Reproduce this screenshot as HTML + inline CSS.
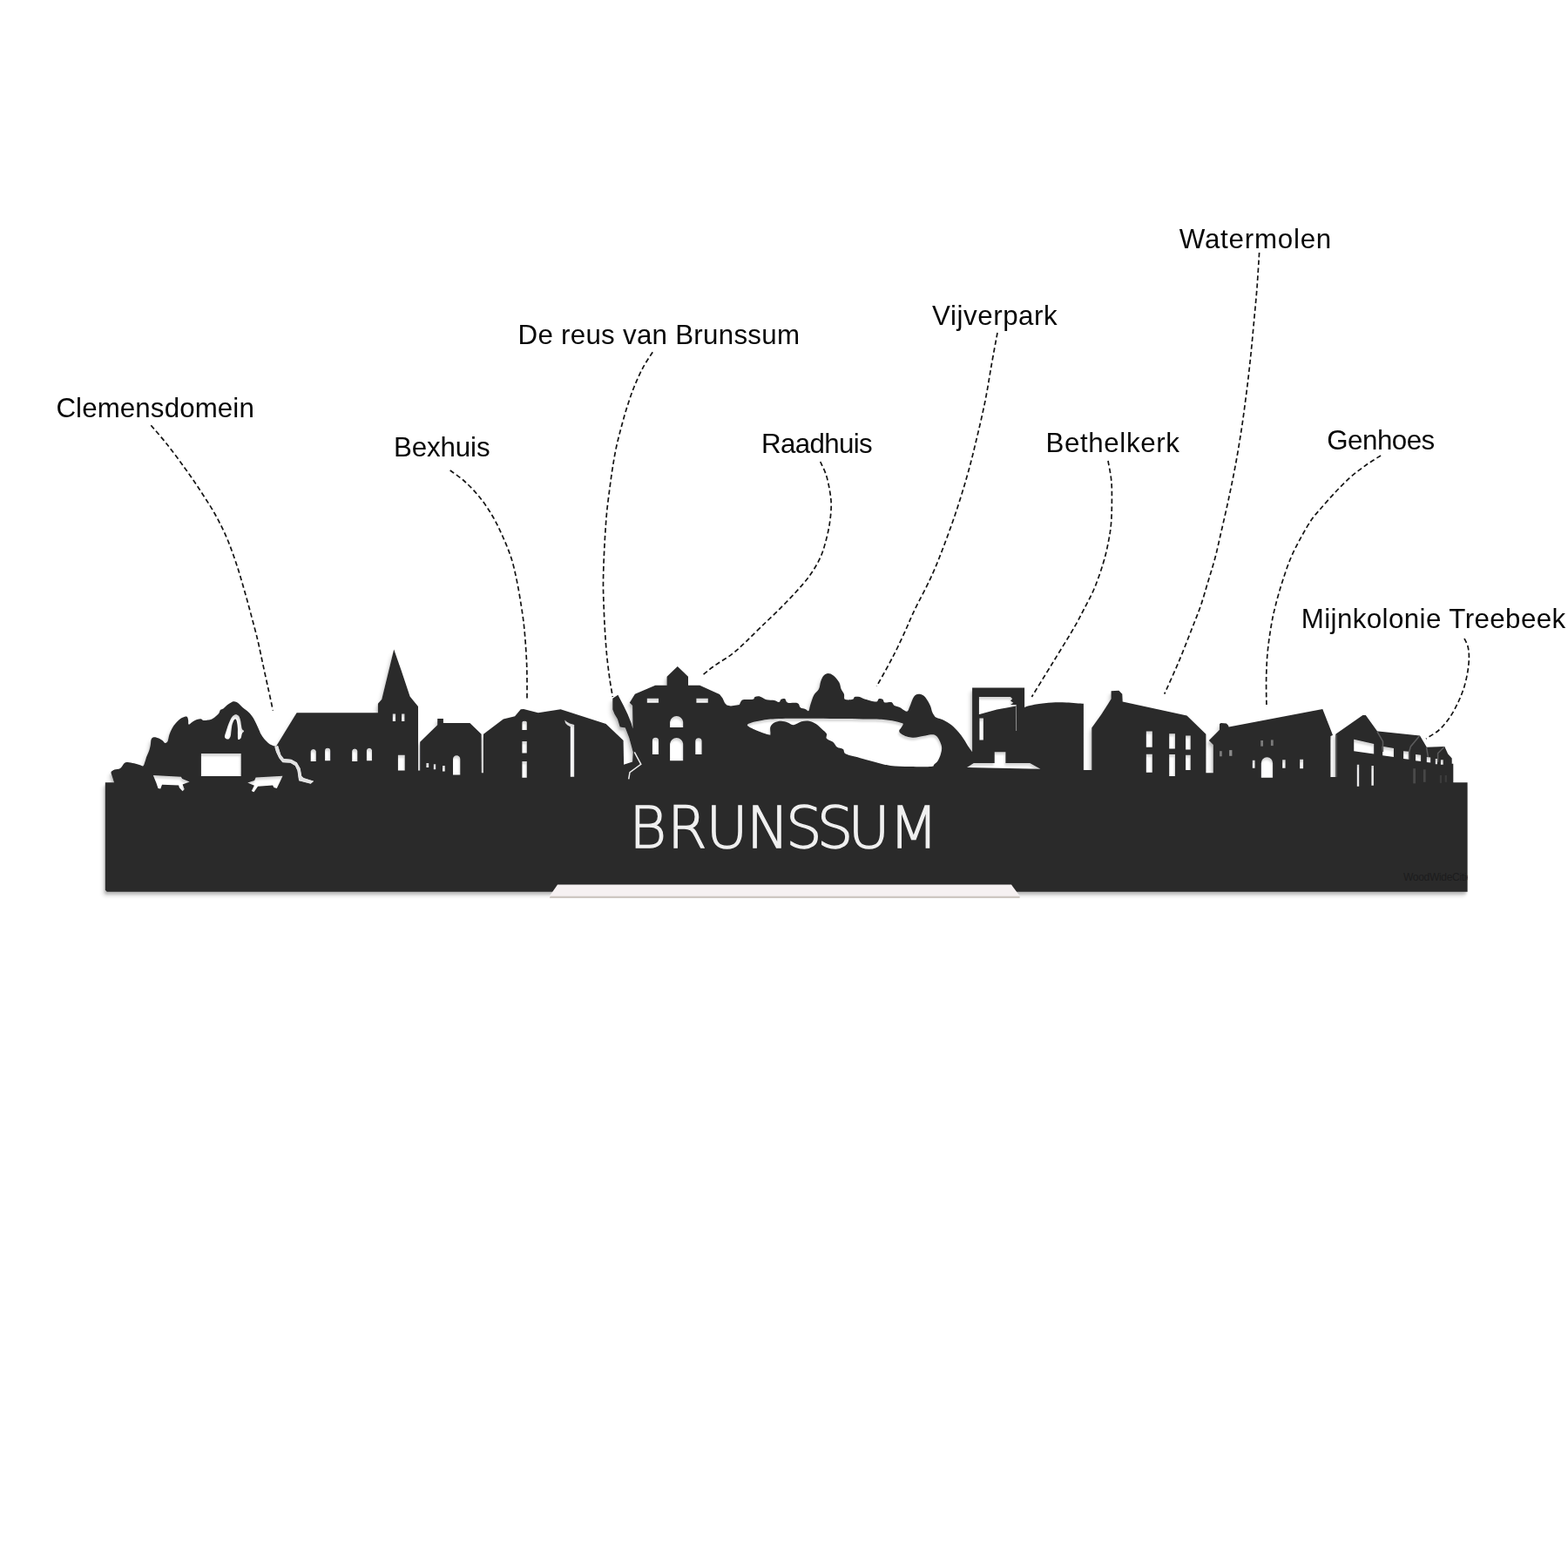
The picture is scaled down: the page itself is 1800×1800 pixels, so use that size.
<!DOCTYPE html>
<html lang="nl">
<head>
<meta charset="utf-8">
<title>Skyline Brunssum</title>
<style>
html,body{margin:0;padding:0;background:#fff;}
body{width:1800px;height:1800px;overflow:hidden;position:relative;font-family:"Liberation Sans",sans-serif;}
svg{display:block;position:absolute;left:0;top:0;}
.lbl text{font-family:"Liberation Sans",sans-serif;font-size:31.3px;fill:#080808;}
.lead path{fill:none;stroke:#141414;stroke-width:1.7;stroke-dasharray:5.5 3.3;}
.city{font-family:"DejaVu Sans","Liberation Sans",sans-serif;font-weight:200;font-size:65.6px;fill:#f0f0f0;stroke:#f0f0f0;stroke-width:1.3;stroke-linejoin:miter;}
.wm{font-family:"Liberation Sans",sans-serif;font-size:12px;fill:#1c1c1d;letter-spacing:-0.3px;}
</style>
</head>
<body>
<svg width="1800" height="1800" viewBox="0 0 1800 1800">
<defs>
<filter id="sh" x="-2%" y="-10%" width="104%" height="130%">
<feGaussianBlur in="SourceAlpha" stdDeviation="1.1" result="b"/>
<feOffset in="b" dx="-1.5" dy="2.8" result="o"/>
<feComponentTransfer in="o" result="s"><feFuncA type="linear" slope="0.16"/></feComponentTransfer>
<feMerge><feMergeNode in="s"/><feMergeNode in="SourceGraphic"/></feMerge>
</filter>
<filter id="sho" x="-2%" y="-10%" width="104%" height="130%">
<feGaussianBlur in="SourceAlpha" stdDeviation="1.9" result="b"/>
<feOffset in="b" dx="-3" dy="5" result="o"/>
<feComponentTransfer in="o" result="s"><feFuncA type="linear" slope="0.13"/></feComponentTransfer>
</filter>
<clipPath id="outside"><path clip-rule="evenodd" d="M0,0H1800V1800H0Z M120.8,898.3 L131.0,898.3 L127.4,887.0 C127.6,886.7 127.6,885.9 128.3,885.3 C129.0,884.7 129.8,884.0 131.4,883.4 C133.0,882.8 136.2,883.1 138.1,881.9 C140.0,880.7 141.4,877.2 142.8,876.0 C144.2,874.8 144.8,874.9 146.7,874.9 C148.6,874.9 151.7,875.7 154.0,876.2 C156.3,876.8 159.0,877.7 160.7,878.2 C162.4,878.7 163.4,879.9 164.4,879.2 C165.4,878.6 165.8,876.1 166.5,874.3 C167.2,872.5 167.6,870.2 168.4,868.2 C169.2,866.2 170.3,864.3 171.1,862.1 C171.8,859.9 172.5,857.0 172.9,854.8 C173.3,852.6 173.0,850.1 173.6,848.7 C174.2,847.3 175.3,846.5 176.6,846.2 C177.9,846.0 179.9,846.6 181.5,847.2 C183.1,847.8 185.1,849.0 186.4,849.9 C187.7,850.8 188.4,852.7 189.4,852.9 C190.4,853.1 191.7,852.6 192.5,851.1 C193.3,849.6 193.5,846.2 194.3,843.8 C195.1,841.3 196.2,838.6 197.4,836.4 C198.6,834.1 200.2,832.1 201.7,830.3 C203.2,828.5 204.9,826.6 206.6,825.4 C208.3,824.1 210.7,823.2 212.1,822.8 C213.5,822.4 214.2,822.4 214.9,823.0 C215.6,823.6 215.8,825.3 216.1,826.7 C216.4,828.1 215.8,831.2 216.6,831.6 C217.3,832.0 219.0,829.8 220.6,828.9 C222.2,828.0 224.4,826.7 226.1,826.1 C227.8,825.5 229.8,825.2 231.0,825.4 C232.2,825.5 232.3,826.8 233.4,827.0 C234.5,827.2 236.3,826.9 237.7,826.7 C239.1,826.6 240.5,826.7 242.0,826.1 C243.5,825.5 245.4,824.2 246.9,823.0 C248.4,821.8 250.2,820.4 251.2,819.1 C252.2,817.8 252.1,816.1 253.0,815.1 C253.9,814.1 255.4,814.2 256.7,813.2 C258.0,812.2 259.5,810.4 260.9,809.3 C262.3,808.2 263.9,807.2 265.2,806.5 C266.5,805.8 267.6,805.2 268.9,805.3 C270.2,805.4 271.7,806.0 273.2,807.1 C274.7,808.2 276.6,810.5 278.1,811.8 C279.6,813.1 280.9,814.0 282.3,815.1 C283.7,816.2 285.3,817.3 286.6,818.7 C287.9,820.1 289.1,821.7 290.3,823.6 C291.5,825.5 292.8,828.0 293.9,830.3 C295.0,832.5 296.1,835.0 297.0,837.1 C297.9,839.2 298.4,840.8 299.4,842.6 C300.4,844.4 301.7,846.4 303.1,848.1 C304.5,849.8 306.4,851.6 308.0,852.9 C309.6,854.2 311.5,855.1 312.9,855.8 C314.3,856.5 316.0,856.8 316.6,857.0 L317.8,855.6 L340.6,818.3 L433.9,818.3 L433.9,807.8 L438.3,802.8 L452.2,745.6 L460.0,767.8 L470.6,799.4 L480.0,811.1 L480.0,884.4 L482.2,884.4 L482.2,851.7 L502.2,832.2 L502.2,825.0 L508.9,825.0 L508.9,830.0 L539.4,830.0 L552.6,842.8 L552.8,887.2 L555.0,887.2 L555.0,842.8 L577.8,825.6 L591.1,822.2 L597.8,814.2 L601.1,813.9 L617.8,818.3 L643.6,814.3 L695.6,831.1 L715.6,850.0 L716.1,877.8 L726.1,874.4 L726.7,863.3 L722.2,846.7 L717.8,835.6 L711.7,834.4 L708.9,825.6 L705.6,820.0 L703.3,814.4 L703.3,801.7 L709.4,797.8 L711.6,802.0 L715.8,810.0 L720.6,820.0 L724.6,830.0 L726.5,836.5 L726.1,810.0 L722.8,806.7 L728.9,796.7 L752.2,786.7 L765.6,786.7 L765.6,776.7 L777.8,765.0 L790.0,776.7 L790.0,786.7 L803.3,786.7 L822.0,795.3 L826.0,797.0 L829.5,801.5 L832.0,807.0 L834.4,809.4 L838.9,810.6 L848.9,808.9 C849.3,808.1 850.2,805.4 851.1,804.4 C852.0,803.4 852.2,803.4 854.4,803.1 C856.6,802.8 862.3,803.3 864.4,802.8 C866.5,802.3 865.4,800.6 866.7,800.0 C868.0,799.4 870.0,798.9 872.2,799.4 C874.4,799.9 877.2,802.5 880.0,803.3 C882.8,804.0 886.5,803.4 888.9,803.9 C891.3,804.4 893.1,806.3 894.4,806.1 C895.7,805.9 895.6,803.4 896.7,802.8 C897.8,802.1 899.8,801.6 901.1,802.2 C902.4,802.9 902.0,805.9 904.4,806.7 C906.8,807.5 913.2,806.3 915.6,807.2 C918.0,808.1 917.4,811.1 918.9,812.2 C920.4,813.3 922.8,813.2 924.4,813.9 C926.0,814.5 927.4,816.8 928.3,816.1 C929.2,815.5 929.0,813.0 930.0,810.0 C931.0,807.0 932.7,800.9 934.4,797.8 C936.1,794.6 938.7,793.7 940.0,791.1 C941.3,788.5 941.3,784.8 942.2,782.2 C943.1,779.6 944.2,777.1 945.6,775.6 C947.0,774.1 948.8,773.1 950.6,773.1 C952.5,773.1 954.6,773.9 956.7,775.6 C958.8,777.3 961.8,780.7 963.3,783.3 C964.8,785.9 964.7,788.9 965.6,791.1 C966.5,793.3 968.2,794.8 968.9,796.7 C969.6,798.7 968.3,801.8 970.0,802.8 C971.7,803.8 977.0,803.3 978.9,802.8 C980.8,802.3 979.8,800.5 981.1,800.0 C982.4,799.5 984.7,799.5 986.7,800.0 C988.7,800.5 990.1,801.9 993.3,802.8 C996.4,803.7 1003.0,805.7 1005.6,805.6 C1008.2,805.5 1007.6,802.7 1008.9,802.2 C1010.2,801.7 1012.2,802.1 1013.3,802.8 C1014.4,803.5 1013.9,805.8 1015.6,806.4 C1017.3,807.0 1021.4,805.5 1023.3,806.1 C1025.1,806.7 1025.0,809.0 1026.7,810.0 C1028.4,811.0 1030.9,811.1 1033.3,812.2 C1035.7,813.3 1039.2,816.9 1041.1,816.7 C1042.9,816.5 1043.3,813.5 1044.4,811.1 C1045.5,808.7 1046.7,804.4 1047.8,802.2 C1048.9,800.0 1049.8,798.7 1051.1,797.8 C1052.4,796.9 1053.9,796.5 1055.6,796.7 C1057.3,796.9 1059.5,797.8 1061.1,799.2 C1062.7,800.6 1064.1,803.0 1065.3,805.0 C1066.5,807.0 1067.5,809.0 1068.3,811.0 C1069.1,813.0 1069.3,815.2 1070.0,817.0 C1070.7,818.8 1071.7,820.4 1072.5,821.5 C1073.3,822.6 1073.2,822.9 1075.0,823.8 C1076.8,824.7 1080.4,825.3 1083.3,826.7 C1086.2,828.1 1089.4,830.0 1092.2,832.2 C1095.0,834.4 1097.6,837.2 1100.0,840.0 C1102.4,842.8 1104.7,845.9 1106.7,848.9 C1108.7,851.9 1110.6,855.4 1112.2,857.8 C1113.8,860.2 1115.4,862.4 1116.1,863.3 L1116.1,789.4 L1176.1,789.4 L1176.1,812.2 C1176.8,811.9 1177.5,811.2 1180.0,810.6 C1182.5,810.0 1186.5,809.0 1191.1,808.3 C1195.7,807.6 1202.2,806.7 1207.8,806.4 C1213.3,806.1 1218.4,806.2 1224.4,806.4 C1230.4,806.6 1240.7,807.6 1243.9,807.8 L1243.9,883.9 L1253.3,883.9 L1253.3,835.6 L1264.4,820.0 L1272.2,807.8 L1275.6,802.2 L1275.6,793.3 L1284.4,792.8 L1288.3,796.7 L1288.7,805.6 L1362.5,821.4 L1384.4,842.8 L1384.4,887.2 L1392.8,887.2 L1392.8,855.0 L1387.8,850.0 L1400.0,837.8 L1400.0,831.1 L1401.7,830.0 L1407.8,830.6 L1410.0,832.8 L1410.6,834.4 L1518.3,813.9 L1530.0,844.0 L1527.4,845.0 L1527.4,892.0 L1533.3,892.0 L1533.3,842.8 L1564.4,821.1 L1567.8,821.1 L1581.1,839.4 L1582.2,839.4 L1630.0,844.4 L1637.8,857.8 L1658.3,856.9 L1662.2,865.6 L1666.7,870.6 L1666.7,876.7 L1668.3,876.7 L1668.3,898.3 L1684.6,898.3 L1684.6,1023.7 L122.8,1023.7 L120.8,1021.7 Z"/></clipPath>
<clipPath id="baseclip"><rect x="120" y="898" width="1564.6" height="125.7"/></clipPath>
</defs>
<rect width="1800" height="1800" fill="#ffffff"/>
<g class="lead">
<path d="M173.3,488.3 C176.4,491.9 185.3,501.9 191.7,510.0 C198.1,518.1 205.3,527.8 211.7,536.7 C218.1,545.6 224.2,554.4 230.0,563.3 C235.8,572.2 241.7,581.1 246.7,590.0 C251.7,598.9 256.1,607.8 260.0,616.7 C263.9,625.6 266.9,634.4 270.0,643.3 C273.1,652.2 275.7,661.1 278.3,670.0 C280.9,678.9 283.5,688.2 285.8,696.7 C288.1,705.2 290.4,713.8 292.3,721.0 C294.2,728.2 295.4,732.8 297.0,740.0 C298.6,747.2 300.3,755.7 302.2,764.4 C304.1,773.1 306.4,783.7 308.3,792.2 C310.2,800.7 312.5,811.7 313.3,815.6"/>
<path d="M516.7,540.0 C519.5,542.1 527.8,547.5 533.3,552.5 C538.8,557.5 544.7,563.5 550.0,570.0 C555.3,576.5 560.5,584.2 565.0,591.7 C569.5,599.2 573.1,607.0 576.7,615.0 C580.3,623.0 583.9,631.4 586.7,640.0 C589.5,648.6 591.4,657.5 593.3,666.7 C595.2,675.9 596.9,686.1 598.3,695.0 C599.7,703.9 600.7,710.3 601.7,720.0 C602.7,729.7 603.7,743.6 604.2,753.3 C604.8,763.0 604.9,770.0 605.0,778.3 C605.1,786.6 605.0,799.1 605.0,803.3"/>
<path d="M749.2,404.2 C747.4,407.1 741.8,415.2 738.3,421.7 C734.8,428.2 731.3,435.8 728.3,443.3 C725.2,450.8 722.5,458.9 720.0,466.7 C717.5,474.5 715.4,482.2 713.3,490.0 C711.2,497.8 709.2,505.5 707.5,513.3 C705.8,521.1 704.5,528.9 703.3,536.7 C702.0,544.5 701.1,551.7 700.0,560.0 C698.9,568.3 697.6,577.8 696.7,586.7 C695.8,595.6 695.3,604.4 694.7,613.3 C694.1,622.2 693.7,631.1 693.3,640.0 C692.9,648.9 692.6,658.9 692.5,666.7 C692.4,674.5 692.5,677.8 692.8,686.7 C693.1,695.6 693.6,708.9 694.2,720.0 C694.9,731.1 695.7,743.3 696.7,753.3 C697.7,763.3 698.9,772.2 700.0,780.0 C701.1,787.8 702.8,796.7 703.3,800.0"/>
<path d="M941.7,530.0 C942.8,532.5 946.5,539.5 948.3,545.0 C950.1,550.5 951.5,557.5 952.5,563.3 C953.5,569.1 954.2,573.9 954.2,580.0 C954.2,586.1 953.5,593.3 952.5,600.0 C951.5,606.7 950.1,613.3 948.3,620.0 C946.5,626.7 944.8,633.3 941.7,640.0 C938.7,646.7 934.7,653.3 930.0,660.0 C925.3,666.7 919.5,673.2 913.3,680.0 C907.1,686.8 899.7,694.3 893.0,701.0 C886.3,707.7 879.5,714.0 873.3,720.0 C867.1,726.0 861.5,731.8 856.0,737.0 C850.5,742.2 846.0,746.5 840.0,751.1 C834.0,755.7 825.5,760.5 820.0,764.4 C814.5,768.3 809.3,772.7 807.2,774.4"/>
<path d="M1145.0,382.0 C1143.8,388.3 1140.3,407.0 1138.0,420.0 C1135.7,433.0 1133.7,446.7 1131.0,460.0 C1128.3,473.3 1125.2,486.7 1122.0,500.0 C1118.8,513.3 1115.7,526.7 1112.0,540.0 C1108.3,553.3 1104.3,566.7 1100.0,580.0 C1095.7,593.3 1091.0,606.7 1086.0,620.0 C1081.0,633.3 1076.0,646.7 1070.0,660.0 C1064.0,673.3 1054.8,690.0 1050.0,700.0 C1045.2,710.0 1044.4,712.7 1041.1,720.0 C1037.8,727.3 1033.5,736.8 1030.0,744.0 C1026.5,751.2 1023.9,756.0 1020.0,763.3 C1016.1,770.6 1008.7,783.7 1006.4,787.8"/>
<path d="M1272.0,529.0 C1272.6,532.5 1274.9,543.2 1275.6,550.0 C1276.3,556.8 1276.4,561.7 1276.4,570.0 C1276.4,578.3 1276.3,591.0 1275.6,600.0 C1274.9,609.0 1273.6,616.0 1272.0,624.0 C1270.4,632.0 1268.7,639.3 1266.0,648.0 C1263.3,656.7 1259.7,667.3 1256.0,676.0 C1252.3,684.7 1247.8,692.7 1244.0,700.0 C1240.2,707.3 1239.1,710.0 1233.3,720.0 C1227.5,730.0 1217.2,746.7 1209.0,760.0 C1200.8,773.3 1188.5,793.3 1184.4,800.0"/>
<path d="M1445.6,290.0 C1445.2,296.7 1444.0,316.7 1443.0,330.0 C1442.0,343.3 1440.6,356.7 1439.4,370.0 C1438.2,383.3 1437.0,396.7 1435.6,410.0 C1434.2,423.3 1432.7,436.7 1431.0,450.0 C1429.3,463.3 1427.6,476.7 1425.6,490.0 C1423.6,503.3 1421.4,516.7 1419.0,530.0 C1416.6,543.3 1413.8,556.7 1411.0,570.0 C1408.2,583.3 1404.7,598.3 1402.0,610.0 C1399.3,621.7 1397.5,630.5 1395.0,640.0 C1392.5,649.5 1389.8,657.8 1387.0,667.0 C1384.2,676.2 1381.5,686.2 1378.5,695.0 C1375.5,703.8 1373.2,709.2 1368.9,720.0 C1364.7,730.8 1358.4,747.2 1353.0,760.0 C1347.6,772.8 1339.4,790.6 1336.7,796.7"/>
<path d="M1585.0,523.0 C1582.2,524.8 1573.8,529.8 1568.0,534.0 C1562.2,538.2 1556.0,542.7 1550.0,548.0 C1544.0,553.3 1537.7,560.0 1532.0,566.0 C1526.3,572.0 1520.3,579.0 1516.0,584.0 C1511.7,589.0 1509.7,590.7 1506.0,596.0 C1502.3,601.3 1498.0,608.7 1494.0,616.0 C1490.0,623.3 1485.7,631.3 1482.0,640.0 C1478.3,648.7 1475.0,658.7 1472.0,668.0 C1469.0,677.3 1466.2,687.3 1464.0,696.0 C1461.8,704.7 1460.5,711.0 1459.0,720.0 C1457.5,729.0 1455.9,740.0 1455.0,750.0 C1454.1,760.0 1453.8,769.7 1453.6,780.0 C1453.4,790.3 1453.9,806.7 1454.0,812.0"/>
<path d="M1681.0,733.0 C1681.7,734.5 1684.1,738.5 1685.0,742.0 C1685.9,745.5 1686.4,749.3 1686.4,754.0 C1686.4,758.7 1685.9,764.3 1685.0,770.0 C1684.1,775.7 1682.8,782.0 1681.0,788.0 C1679.2,794.0 1676.8,800.0 1674.0,806.0 C1671.2,812.0 1667.7,818.7 1664.0,824.0 C1660.3,829.3 1656.5,834.0 1652.0,838.0 C1647.5,842.0 1639.5,846.3 1637.0,848.0"/>
</g>
<g class="lbl" opacity="0.999">
<text x="64.4" y="478.8" textLength="227.4" lengthAdjust="spacing">Clemensdomein</text>
<text x="452.0" y="523.7" textLength="110.6" lengthAdjust="spacing">Bexhuis</text>
<text x="594.5" y="394.6" textLength="323.5" lengthAdjust="spacing">De reus van Brunssum</text>
<text x="874.0" y="519.8" textLength="127.7" lengthAdjust="spacing">Raadhuis</text>
<text x="1070.1" y="373.3" textLength="143.6" lengthAdjust="spacing">Vijverpark</text>
<text x="1200.5" y="518.8" textLength="153.4" lengthAdjust="spacing">Bethelkerk</text>
<text x="1353.8" y="285.3" textLength="174.4" lengthAdjust="spacing">Watermolen</text>
<text x="1523.3" y="515.6" textLength="123.9" lengthAdjust="spacing">Genhoes</text>
<text x="1493.7" y="720.7" textLength="303.5" lengthAdjust="spacing">Mijnkolonie Treebeek</text>
</g>
<g clip-path="url(#outside)"><path fill="#29292a" d="M120.8,898.3 L131.0,898.3 L127.4,887.0 C127.6,886.7 127.6,885.9 128.3,885.3 C129.0,884.7 129.8,884.0 131.4,883.4 C133.0,882.8 136.2,883.1 138.1,881.9 C140.0,880.7 141.4,877.2 142.8,876.0 C144.2,874.8 144.8,874.9 146.7,874.9 C148.6,874.9 151.7,875.7 154.0,876.2 C156.3,876.8 159.0,877.7 160.7,878.2 C162.4,878.7 163.4,879.9 164.4,879.2 C165.4,878.6 165.8,876.1 166.5,874.3 C167.2,872.5 167.6,870.2 168.4,868.2 C169.2,866.2 170.3,864.3 171.1,862.1 C171.8,859.9 172.5,857.0 172.9,854.8 C173.3,852.6 173.0,850.1 173.6,848.7 C174.2,847.3 175.3,846.5 176.6,846.2 C177.9,846.0 179.9,846.6 181.5,847.2 C183.1,847.8 185.1,849.0 186.4,849.9 C187.7,850.8 188.4,852.7 189.4,852.9 C190.4,853.1 191.7,852.6 192.5,851.1 C193.3,849.6 193.5,846.2 194.3,843.8 C195.1,841.3 196.2,838.6 197.4,836.4 C198.6,834.1 200.2,832.1 201.7,830.3 C203.2,828.5 204.9,826.6 206.6,825.4 C208.3,824.1 210.7,823.2 212.1,822.8 C213.5,822.4 214.2,822.4 214.9,823.0 C215.6,823.6 215.8,825.3 216.1,826.7 C216.4,828.1 215.8,831.2 216.6,831.6 C217.3,832.0 219.0,829.8 220.6,828.9 C222.2,828.0 224.4,826.7 226.1,826.1 C227.8,825.5 229.8,825.2 231.0,825.4 C232.2,825.5 232.3,826.8 233.4,827.0 C234.5,827.2 236.3,826.9 237.7,826.7 C239.1,826.6 240.5,826.7 242.0,826.1 C243.5,825.5 245.4,824.2 246.9,823.0 C248.4,821.8 250.2,820.4 251.2,819.1 C252.2,817.8 252.1,816.1 253.0,815.1 C253.9,814.1 255.4,814.2 256.7,813.2 C258.0,812.2 259.5,810.4 260.9,809.3 C262.3,808.2 263.9,807.2 265.2,806.5 C266.5,805.8 267.6,805.2 268.9,805.3 C270.2,805.4 271.7,806.0 273.2,807.1 C274.7,808.2 276.6,810.5 278.1,811.8 C279.6,813.1 280.9,814.0 282.3,815.1 C283.7,816.2 285.3,817.3 286.6,818.7 C287.9,820.1 289.1,821.7 290.3,823.6 C291.5,825.5 292.8,828.0 293.9,830.3 C295.0,832.5 296.1,835.0 297.0,837.1 C297.9,839.2 298.4,840.8 299.4,842.6 C300.4,844.4 301.7,846.4 303.1,848.1 C304.5,849.8 306.4,851.6 308.0,852.9 C309.6,854.2 311.5,855.1 312.9,855.8 C314.3,856.5 316.0,856.8 316.6,857.0 L317.8,855.6 L340.6,818.3 L433.9,818.3 L433.9,807.8 L438.3,802.8 L452.2,745.6 L460.0,767.8 L470.6,799.4 L480.0,811.1 L480.0,884.4 L482.2,884.4 L482.2,851.7 L502.2,832.2 L502.2,825.0 L508.9,825.0 L508.9,830.0 L539.4,830.0 L552.6,842.8 L552.8,887.2 L555.0,887.2 L555.0,842.8 L577.8,825.6 L591.1,822.2 L597.8,814.2 L601.1,813.9 L617.8,818.3 L643.6,814.3 L695.6,831.1 L715.6,850.0 L716.1,877.8 L726.1,874.4 L726.7,863.3 L722.2,846.7 L717.8,835.6 L711.7,834.4 L708.9,825.6 L705.6,820.0 L703.3,814.4 L703.3,801.7 L709.4,797.8 L711.6,802.0 L715.8,810.0 L720.6,820.0 L724.6,830.0 L726.5,836.5 L726.1,810.0 L722.8,806.7 L728.9,796.7 L752.2,786.7 L765.6,786.7 L765.6,776.7 L777.8,765.0 L790.0,776.7 L790.0,786.7 L803.3,786.7 L822.0,795.3 L826.0,797.0 L829.5,801.5 L832.0,807.0 L834.4,809.4 L838.9,810.6 L848.9,808.9 C849.3,808.1 850.2,805.4 851.1,804.4 C852.0,803.4 852.2,803.4 854.4,803.1 C856.6,802.8 862.3,803.3 864.4,802.8 C866.5,802.3 865.4,800.6 866.7,800.0 C868.0,799.4 870.0,798.9 872.2,799.4 C874.4,799.9 877.2,802.5 880.0,803.3 C882.8,804.0 886.5,803.4 888.9,803.9 C891.3,804.4 893.1,806.3 894.4,806.1 C895.7,805.9 895.6,803.4 896.7,802.8 C897.8,802.1 899.8,801.6 901.1,802.2 C902.4,802.9 902.0,805.9 904.4,806.7 C906.8,807.5 913.2,806.3 915.6,807.2 C918.0,808.1 917.4,811.1 918.9,812.2 C920.4,813.3 922.8,813.2 924.4,813.9 C926.0,814.5 927.4,816.8 928.3,816.1 C929.2,815.5 929.0,813.0 930.0,810.0 C931.0,807.0 932.7,800.9 934.4,797.8 C936.1,794.6 938.7,793.7 940.0,791.1 C941.3,788.5 941.3,784.8 942.2,782.2 C943.1,779.6 944.2,777.1 945.6,775.6 C947.0,774.1 948.8,773.1 950.6,773.1 C952.5,773.1 954.6,773.9 956.7,775.6 C958.8,777.3 961.8,780.7 963.3,783.3 C964.8,785.9 964.7,788.9 965.6,791.1 C966.5,793.3 968.2,794.8 968.9,796.7 C969.6,798.7 968.3,801.8 970.0,802.8 C971.7,803.8 977.0,803.3 978.9,802.8 C980.8,802.3 979.8,800.5 981.1,800.0 C982.4,799.5 984.7,799.5 986.7,800.0 C988.7,800.5 990.1,801.9 993.3,802.8 C996.4,803.7 1003.0,805.7 1005.6,805.6 C1008.2,805.5 1007.6,802.7 1008.9,802.2 C1010.2,801.7 1012.2,802.1 1013.3,802.8 C1014.4,803.5 1013.9,805.8 1015.6,806.4 C1017.3,807.0 1021.4,805.5 1023.3,806.1 C1025.1,806.7 1025.0,809.0 1026.7,810.0 C1028.4,811.0 1030.9,811.1 1033.3,812.2 C1035.7,813.3 1039.2,816.9 1041.1,816.7 C1042.9,816.5 1043.3,813.5 1044.4,811.1 C1045.5,808.7 1046.7,804.4 1047.8,802.2 C1048.9,800.0 1049.8,798.7 1051.1,797.8 C1052.4,796.9 1053.9,796.5 1055.6,796.7 C1057.3,796.9 1059.5,797.8 1061.1,799.2 C1062.7,800.6 1064.1,803.0 1065.3,805.0 C1066.5,807.0 1067.5,809.0 1068.3,811.0 C1069.1,813.0 1069.3,815.2 1070.0,817.0 C1070.7,818.8 1071.7,820.4 1072.5,821.5 C1073.3,822.6 1073.2,822.9 1075.0,823.8 C1076.8,824.7 1080.4,825.3 1083.3,826.7 C1086.2,828.1 1089.4,830.0 1092.2,832.2 C1095.0,834.4 1097.6,837.2 1100.0,840.0 C1102.4,842.8 1104.7,845.9 1106.7,848.9 C1108.7,851.9 1110.6,855.4 1112.2,857.8 C1113.8,860.2 1115.4,862.4 1116.1,863.3 L1116.1,789.4 L1176.1,789.4 L1176.1,812.2 C1176.8,811.9 1177.5,811.2 1180.0,810.6 C1182.5,810.0 1186.5,809.0 1191.1,808.3 C1195.7,807.6 1202.2,806.7 1207.8,806.4 C1213.3,806.1 1218.4,806.2 1224.4,806.4 C1230.4,806.6 1240.7,807.6 1243.9,807.8 L1243.9,883.9 L1253.3,883.9 L1253.3,835.6 L1264.4,820.0 L1272.2,807.8 L1275.6,802.2 L1275.6,793.3 L1284.4,792.8 L1288.3,796.7 L1288.7,805.6 L1362.5,821.4 L1384.4,842.8 L1384.4,887.2 L1392.8,887.2 L1392.8,855.0 L1387.8,850.0 L1400.0,837.8 L1400.0,831.1 L1401.7,830.0 L1407.8,830.6 L1410.0,832.8 L1410.6,834.4 L1518.3,813.9 L1530.0,844.0 L1527.4,845.0 L1527.4,892.0 L1533.3,892.0 L1533.3,842.8 L1564.4,821.1 L1567.8,821.1 L1581.1,839.4 L1582.2,839.4 L1630.0,844.4 L1637.8,857.8 L1658.3,856.9 L1662.2,865.6 L1666.7,870.6 L1666.7,876.7 L1668.3,876.7 L1668.3,898.3 L1684.6,898.3 L1684.6,1023.7 L122.8,1023.7 L120.8,1021.7 Z" filter="url(#sho)"/></g>
<g filter="url(#sh)">
<path fill="#29292a" fill-rule="evenodd" d="M120.8,898.3 L131.0,898.3 L127.4,887.0 C127.6,886.7 127.6,885.9 128.3,885.3 C129.0,884.7 129.8,884.0 131.4,883.4 C133.0,882.8 136.2,883.1 138.1,881.9 C140.0,880.7 141.4,877.2 142.8,876.0 C144.2,874.8 144.8,874.9 146.7,874.9 C148.6,874.9 151.7,875.7 154.0,876.2 C156.3,876.8 159.0,877.7 160.7,878.2 C162.4,878.7 163.4,879.9 164.4,879.2 C165.4,878.6 165.8,876.1 166.5,874.3 C167.2,872.5 167.6,870.2 168.4,868.2 C169.2,866.2 170.3,864.3 171.1,862.1 C171.8,859.9 172.5,857.0 172.9,854.8 C173.3,852.6 173.0,850.1 173.6,848.7 C174.2,847.3 175.3,846.5 176.6,846.2 C177.9,846.0 179.9,846.6 181.5,847.2 C183.1,847.8 185.1,849.0 186.4,849.9 C187.7,850.8 188.4,852.7 189.4,852.9 C190.4,853.1 191.7,852.6 192.5,851.1 C193.3,849.6 193.5,846.2 194.3,843.8 C195.1,841.3 196.2,838.6 197.4,836.4 C198.6,834.1 200.2,832.1 201.7,830.3 C203.2,828.5 204.9,826.6 206.6,825.4 C208.3,824.1 210.7,823.2 212.1,822.8 C213.5,822.4 214.2,822.4 214.9,823.0 C215.6,823.6 215.8,825.3 216.1,826.7 C216.4,828.1 215.8,831.2 216.6,831.6 C217.3,832.0 219.0,829.8 220.6,828.9 C222.2,828.0 224.4,826.7 226.1,826.1 C227.8,825.5 229.8,825.2 231.0,825.4 C232.2,825.5 232.3,826.8 233.4,827.0 C234.5,827.2 236.3,826.9 237.7,826.7 C239.1,826.6 240.5,826.7 242.0,826.1 C243.5,825.5 245.4,824.2 246.9,823.0 C248.4,821.8 250.2,820.4 251.2,819.1 C252.2,817.8 252.1,816.1 253.0,815.1 C253.9,814.1 255.4,814.2 256.7,813.2 C258.0,812.2 259.5,810.4 260.9,809.3 C262.3,808.2 263.9,807.2 265.2,806.5 C266.5,805.8 267.6,805.2 268.9,805.3 C270.2,805.4 271.7,806.0 273.2,807.1 C274.7,808.2 276.6,810.5 278.1,811.8 C279.6,813.1 280.9,814.0 282.3,815.1 C283.7,816.2 285.3,817.3 286.6,818.7 C287.9,820.1 289.1,821.7 290.3,823.6 C291.5,825.5 292.8,828.0 293.9,830.3 C295.0,832.5 296.1,835.0 297.0,837.1 C297.9,839.2 298.4,840.8 299.4,842.6 C300.4,844.4 301.7,846.4 303.1,848.1 C304.5,849.8 306.4,851.6 308.0,852.9 C309.6,854.2 311.5,855.1 312.9,855.8 C314.3,856.5 316.0,856.8 316.6,857.0 L317.8,855.6 L340.6,818.3 L433.9,818.3 L433.9,807.8 L438.3,802.8 L452.2,745.6 L460.0,767.8 L470.6,799.4 L480.0,811.1 L480.0,884.4 L482.2,884.4 L482.2,851.7 L502.2,832.2 L502.2,825.0 L508.9,825.0 L508.9,830.0 L539.4,830.0 L552.6,842.8 L552.8,887.2 L555.0,887.2 L555.0,842.8 L577.8,825.6 L591.1,822.2 L597.8,814.2 L601.1,813.9 L617.8,818.3 L643.6,814.3 L695.6,831.1 L715.6,850.0 L716.1,877.8 L726.1,874.4 L726.7,863.3 L722.2,846.7 L717.8,835.6 L711.7,834.4 L708.9,825.6 L705.6,820.0 L703.3,814.4 L703.3,801.7 L709.4,797.8 L711.6,802.0 L715.8,810.0 L720.6,820.0 L724.6,830.0 L726.5,836.5 L726.1,810.0 L722.8,806.7 L728.9,796.7 L752.2,786.7 L765.6,786.7 L765.6,776.7 L777.8,765.0 L790.0,776.7 L790.0,786.7 L803.3,786.7 L822.0,795.3 L826.0,797.0 L829.5,801.5 L832.0,807.0 L834.4,809.4 L838.9,810.6 L848.9,808.9 C849.3,808.1 850.2,805.4 851.1,804.4 C852.0,803.4 852.2,803.4 854.4,803.1 C856.6,802.8 862.3,803.3 864.4,802.8 C866.5,802.3 865.4,800.6 866.7,800.0 C868.0,799.4 870.0,798.9 872.2,799.4 C874.4,799.9 877.2,802.5 880.0,803.3 C882.8,804.0 886.5,803.4 888.9,803.9 C891.3,804.4 893.1,806.3 894.4,806.1 C895.7,805.9 895.6,803.4 896.7,802.8 C897.8,802.1 899.8,801.6 901.1,802.2 C902.4,802.9 902.0,805.9 904.4,806.7 C906.8,807.5 913.2,806.3 915.6,807.2 C918.0,808.1 917.4,811.1 918.9,812.2 C920.4,813.3 922.8,813.2 924.4,813.9 C926.0,814.5 927.4,816.8 928.3,816.1 C929.2,815.5 929.0,813.0 930.0,810.0 C931.0,807.0 932.7,800.9 934.4,797.8 C936.1,794.6 938.7,793.7 940.0,791.1 C941.3,788.5 941.3,784.8 942.2,782.2 C943.1,779.6 944.2,777.1 945.6,775.6 C947.0,774.1 948.8,773.1 950.6,773.1 C952.5,773.1 954.6,773.9 956.7,775.6 C958.8,777.3 961.8,780.7 963.3,783.3 C964.8,785.9 964.7,788.9 965.6,791.1 C966.5,793.3 968.2,794.8 968.9,796.7 C969.6,798.7 968.3,801.8 970.0,802.8 C971.7,803.8 977.0,803.3 978.9,802.8 C980.8,802.3 979.8,800.5 981.1,800.0 C982.4,799.5 984.7,799.5 986.7,800.0 C988.7,800.5 990.1,801.9 993.3,802.8 C996.4,803.7 1003.0,805.7 1005.6,805.6 C1008.2,805.5 1007.6,802.7 1008.9,802.2 C1010.2,801.7 1012.2,802.1 1013.3,802.8 C1014.4,803.5 1013.9,805.8 1015.6,806.4 C1017.3,807.0 1021.4,805.5 1023.3,806.1 C1025.1,806.7 1025.0,809.0 1026.7,810.0 C1028.4,811.0 1030.9,811.1 1033.3,812.2 C1035.7,813.3 1039.2,816.9 1041.1,816.7 C1042.9,816.5 1043.3,813.5 1044.4,811.1 C1045.5,808.7 1046.7,804.4 1047.8,802.2 C1048.9,800.0 1049.8,798.7 1051.1,797.8 C1052.4,796.9 1053.9,796.5 1055.6,796.7 C1057.3,796.9 1059.5,797.8 1061.1,799.2 C1062.7,800.6 1064.1,803.0 1065.3,805.0 C1066.5,807.0 1067.5,809.0 1068.3,811.0 C1069.1,813.0 1069.3,815.2 1070.0,817.0 C1070.7,818.8 1071.7,820.4 1072.5,821.5 C1073.3,822.6 1073.2,822.9 1075.0,823.8 C1076.8,824.7 1080.4,825.3 1083.3,826.7 C1086.2,828.1 1089.4,830.0 1092.2,832.2 C1095.0,834.4 1097.6,837.2 1100.0,840.0 C1102.4,842.8 1104.7,845.9 1106.7,848.9 C1108.7,851.9 1110.6,855.4 1112.2,857.8 C1113.8,860.2 1115.4,862.4 1116.1,863.3 L1116.1,789.4 L1176.1,789.4 L1176.1,812.2 C1176.8,811.9 1177.5,811.2 1180.0,810.6 C1182.5,810.0 1186.5,809.0 1191.1,808.3 C1195.7,807.6 1202.2,806.7 1207.8,806.4 C1213.3,806.1 1218.4,806.2 1224.4,806.4 C1230.4,806.6 1240.7,807.6 1243.9,807.8 L1243.9,883.9 L1253.3,883.9 L1253.3,835.6 L1264.4,820.0 L1272.2,807.8 L1275.6,802.2 L1275.6,793.3 L1284.4,792.8 L1288.3,796.7 L1288.7,805.6 L1362.5,821.4 L1384.4,842.8 L1384.4,887.2 L1392.8,887.2 L1392.8,855.0 L1387.8,850.0 L1400.0,837.8 L1400.0,831.1 L1401.7,830.0 L1407.8,830.6 L1410.0,832.8 L1410.6,834.4 L1518.3,813.9 L1530.0,844.0 L1527.4,845.0 L1527.4,892.0 L1533.3,892.0 L1533.3,842.8 L1564.4,821.1 L1567.8,821.1 L1581.1,839.4 L1582.2,839.4 L1630.0,844.4 L1637.8,857.8 L1658.3,856.9 L1662.2,865.6 L1666.7,870.6 L1666.7,876.7 L1668.3,876.7 L1668.3,898.3 L1684.6,898.3 L1684.6,1023.7 L122.8,1023.7 L120.8,1021.7 Z M230.9,865.0 L276.7,865.0 L276.7,891.1 L230.9,891.1 Z M257.9,845.6 C257.9,844.3 258.8,842.0 259.4,840.1 C260.0,838.2 260.5,836.2 261.3,834.0 C262.1,831.8 263.2,828.7 264.2,826.7 C265.2,824.7 266.3,822.9 267.4,821.8 C268.5,820.7 269.6,820.2 270.7,820.2 C271.8,820.2 273.1,820.7 274.0,821.8 C274.9,822.9 275.5,824.9 276.0,826.7 C276.5,828.5 276.7,831.1 277.0,832.8 C277.3,834.5 277.4,836.0 277.9,837.1 C278.4,838.2 280.1,838.7 280.1,839.5 C280.1,840.3 278.5,840.6 277.9,841.9 C277.3,843.2 277.3,846.3 276.5,847.4 C275.7,848.5 273.9,849.5 273.3,848.7 C272.7,847.9 273.0,844.7 272.9,842.6 C272.8,840.5 273.0,838.6 272.9,836.4 C272.8,834.2 272.5,831.2 272.1,829.4 C271.8,827.6 271.2,826.4 270.8,825.8 C270.4,825.2 269.9,825.4 269.4,825.8 C268.9,826.2 268.4,826.9 267.9,828.1 C267.4,829.3 266.7,831.0 266.3,832.8 C265.9,834.6 265.8,836.9 265.5,838.9 C265.2,840.9 265.2,843.4 264.7,845.0 C264.2,846.6 263.4,847.9 262.5,848.4 C261.6,848.9 260.2,848.4 259.4,847.9 C258.6,847.4 257.9,846.9 257.9,845.6 Z M175.8,890.0 L207.8,891.7 L209.2,894.1 L217.6,897.6 L209.6,900.6 L211.7,906.1 L209.6,908.3 L205.9,904.3 L205.1,901.5 L186.0,900.7 L184.3,905.6 L181.5,904.9 L179.4,898.8 Z M284.2,898.5 L292.1,896.1 L293.6,892.4 L324.5,890.7 L321.4,897.6 L317.8,904.9 L314.4,903.9 L313.1,901.5 L296.0,902.7 L291.5,909.2 L288.7,907.9 L291.9,901.8 Z M315.6,857.8 L317.2,863.3 L320.6,870.0 L324.4,875.0 L333.3,875.6 L338.9,878.9 L341.7,884.4 L343.3,896.1 L356.7,899.4 L360.0,896.7 L348.3,893.3 L346.1,891.1 L344.4,882.2 L340.6,875.6 L334.4,872.0 L325.6,871.1 L322.2,866.7 L318.9,856.1 Z M356.7,873.9 L356.7,862.5 A3.1,3.1 0 0 1 362.8,862.5 L362.8,873.9 Z M373.1,873.3 L373.1,861.9 A3.0,3.0 0 0 1 379.2,861.9 L379.2,873.3 Z M404.2,873.9 L404.2,862.0 A3.1,3.1 0 0 1 410.3,862.0 L410.3,873.9 Z M420.9,873.3 L420.9,861.3 A3.1,3.1 0 0 1 427.0,861.3 L427.0,873.3 Z M450.8,819.4 L454.1,819.4 L454.1,828.0 L450.8,828.0 Z M461.1,819.4 L464.4,819.4 L464.4,828.0 L461.1,828.0 Z M456.9,866.7 L464.7,866.7 L464.7,884.4 L456.9,884.4 Z M489.4,876.1 L492.2,876.1 L492.2,881.1 L489.4,881.1 Z M497.8,877.2 L500.2,877.2 L500.2,883.3 L497.8,883.3 Z M508.0,878.9 L510.8,878.9 L510.8,885.6 L508.0,885.6 Z M520.0,889.4 L520.0,871.4 A4.1,4.1 0 0 1 528.3,871.4 L528.3,889.4 Z M599.4,838.0 L599.4,829.3 A2.7,1.5 0 0 1 604.8,829.3 L604.8,838.0 Z M599.4,851.1 L604.8,851.1 L604.8,864.4 L599.4,864.4 Z M599.4,873.9 L604.8,873.9 L604.8,892.8 L599.4,892.8 Z M648.3,826.4 L650.5,828.4 L654.0,830.6 L659.2,832.0 L659.2,891.7 L654.8,891.7 L654.8,834.3 L651.5,832.6 L649.0,830.0 Z M742.8,801.7 L756.1,801.7 L756.1,806.7 L742.8,806.7 Z M799.4,801.7 L812.8,801.7 L812.8,806.7 L799.4,806.7 Z M769.1,835.0 L769.1,828.7 A7.6,7.6 0 0 1 784.2,828.7 L784.2,835.0 Z M748.9,866.1 L748.9,850.3 A3.6,3.6 0 0 1 756.1,850.3 L756.1,866.1 Z M769.1,873.3 L769.1,853.7 A7.6,7.6 0 0 1 784.2,853.7 L784.2,873.3 Z M798.3,866.1 L798.3,850.4 A3.7,3.7 0 0 1 805.6,850.4 L805.6,866.1 Z M858.3,831.4 C860.2,829.7 869.0,827.8 875.6,826.7 C882.2,825.6 884.8,825.3 897.8,825.0 C910.8,824.7 936.3,824.9 953.3,825.0 C970.3,825.1 988.9,825.3 1000.0,825.6 C1011.1,825.9 1014.5,826.1 1020.0,826.7 C1025.5,827.3 1030.5,828.7 1033.3,829.4 C1036.1,830.1 1036.5,830.1 1036.7,831.1 C1036.9,832.1 1035.2,834.3 1034.4,835.6 C1033.7,836.9 1032.2,837.8 1032.2,838.9 C1032.2,840.0 1032.9,841.1 1034.4,842.2 C1035.9,843.3 1038.7,844.9 1041.1,845.6 C1043.5,846.4 1045.4,846.9 1048.9,846.7 C1052.4,846.5 1058.5,845.0 1062.2,844.4 C1065.9,843.8 1068.9,843.1 1071.1,843.3 C1073.3,843.5 1074.3,844.3 1075.6,845.6 C1076.9,846.9 1078.0,849.1 1078.9,851.1 C1079.8,853.1 1080.9,855.4 1081.1,857.8 C1081.3,860.2 1080.7,863.0 1080.0,865.6 C1079.3,868.2 1078.0,871.3 1076.7,873.3 C1075.4,875.3 1073.5,876.7 1072.2,877.8 C1070.9,878.9 1073.5,879.6 1068.9,880.0 C1064.3,880.4 1052.2,880.2 1044.4,880.0 C1036.6,879.8 1029.1,879.8 1022.2,878.9 C1015.4,878.0 1009.2,875.9 1003.3,874.4 C997.4,872.9 992.1,871.5 986.7,870.0 C981.3,868.5 974.2,867.3 971.1,865.6 C968.0,863.9 969.5,861.3 967.8,860.0 C966.1,858.7 963.0,859.1 961.1,857.8 C959.2,856.5 958.7,853.9 956.7,852.2 C954.7,850.5 950.2,849.5 948.9,847.8 C947.6,846.1 949.8,844.1 948.9,842.2 C948.0,840.4 945.3,838.6 943.3,836.7 C941.3,834.9 939.1,832.6 936.7,831.1 C934.3,829.6 931.7,828.3 928.9,827.8 C926.1,827.3 923.0,827.6 920.0,828.3 C917.0,829.0 913.7,832.0 911.1,832.2 C908.5,832.4 906.8,830.1 904.4,829.4 C902.0,828.7 899.3,827.8 896.7,827.8 C894.1,827.8 891.0,828.3 888.9,829.4 C886.8,830.5 885.1,832.3 884.4,834.4 C883.6,836.5 884.8,840.7 884.4,842.2 C884.0,843.7 885.5,844.2 882.2,843.3 C878.9,842.4 868.4,838.7 864.4,836.7 C860.4,834.7 856.4,833.1 858.3,831.4 Z M1123.9,800.0 L1160.0,800.0 L1162.2,802.2 L1160.0,804.4 L1163.3,806.7 L1160.0,808.9 L1166.7,808.9 L1166.7,810.6 L1144.4,814.4 L1124.4,820.0 L1123.9,820.0 Z M1124.4,824.4 L1128.9,824.4 L1128.9,849.4 L1124.4,849.4 Z M1141.7,863.3 L1154.4,863.3 L1154.4,876.1 L1182.2,876.1 L1194.4,882.8 L1110.0,881.1 L1117.8,876.1 L1141.7,876.1 Z M1315.8,839.4 L1322.8,839.4 L1322.8,857.8 L1315.8,857.8 Z M1315.8,865.8 L1322.8,865.8 L1322.8,886.7 L1315.8,886.7 Z M1342.2,842.2 L1348.9,842.2 L1348.9,859.4 L1342.2,859.4 Z M1342.2,866.1 L1348.9,866.1 L1348.9,891.1 L1342.2,891.1 Z M1361.1,844.4 L1366.7,844.4 L1366.7,860.6 L1361.1,860.6 Z M1361.1,866.7 L1366.7,866.7 L1366.7,883.9 L1361.1,883.9 Z M1437.8,872.8 L1440.6,872.8 L1440.6,881.7 L1437.8,881.7 Z M1472.2,872.2 L1475.6,872.2 L1475.6,881.7 L1472.2,881.7 Z M1492.2,871.7 L1496.1,871.7 L1496.1,882.2 L1492.2,882.2 Z M1447.8,892.8 L1447.8,876.0 A6.6,6.6 0 0 1 1461.1,876.0 L1461.1,892.8 Z M1554.2,848.7 L1577.2,853.9 L1577.2,865.6 L1554.2,862.2 Z M1586.7,856.7 L1600.0,858.9 L1600.0,868.9 L1587.2,867.2 Z M1611.1,862.2 L1617.2,862.8 L1617.2,871.7 L1611.1,871.1 Z M1625.0,866.1 L1631.1,866.7 L1631.1,873.9 L1625.0,873.3 Z M1637.8,868.9 L1642.2,869.4 L1642.2,875.6 L1637.8,875.0 Z M1647.8,871.1 L1650.0,871.1 L1650.0,877.2 L1647.8,877.2 Z M1653.9,872.2 L1656.7,872.2 L1656.7,877.8 L1653.9,877.8 Z M1557.8,877.8 L1560.2,877.8 L1560.2,902.8 L1557.8,902.8 Z M1574.4,878.9 L1576.9,878.9 L1576.9,901.7 L1574.4,901.7 Z"/>
</g>
<rect x="1447.2" y="850" width="2.8" height="6.7" fill="#7a7a7a"/>
<rect x="1458.9" y="849.4" width="2.8" height="6.7" fill="#7a7a7a"/>
<rect x="1400" y="862.2" width="2.8" height="6.1" fill="#7a7a7a"/>
<rect x="1411.1" y="861.1" width="3.3" height="6.7" fill="#8a8a8a"/>
<rect x="1622.2" y="882.2" width="2.8" height="17.2" fill="#4a4a4a"/>
<rect x="1633.9" y="883.3" width="2.8" height="14.5" fill="#474747"/>
<rect x="1652.8" y="890" width="2.2" height="8.9" fill="#3c3c3c"/>
<rect x="1658.7" y="890" width="2.2" height="7.8" fill="#3c3c3c"/>
<g fill="none" stroke="#5c5c5d" stroke-width="1.5"><path d="M1534,843.5 L1534,892"/><path d="M1581,839.8 L1587.5,851.1 L1587.5,863.3"/><path d="M1629.4,845 L1619.4,856.9 L1617.6,863.3 L1617.6,871.7"/><path d="M1637.6,858.1 L1639.4,868.9"/><path d="M1658.1,857.3 L1650.6,864.7 L1650.6,874.7"/></g>
<path fill="#e2e2e2" d="M315.3,857.6 L317.0,863.3 L320.3,870.2 L324.4,875.2 L333.3,875.8 L338.9,879.1 L341.4,884.7 L343.1,896.3 L356.7,899.7 L360.2,896.7 L348.6,893.1 L346.3,890.9 L344.7,882.0 L340.8,875.3 L334.4,871.8 L325.8,870.9 L322.4,866.4 L319.1,855.9 Z"/>
<path d="M728.3,863.3 L735.8,877.3 L723,886.6 L721.7,894.4" fill="none" stroke="#ececec" stroke-width="1.5"/>
<path d="M1166.4,810.6 L1166.6,839" fill="none" stroke="#9a9a9a" stroke-width="0.9"/>
<g clip-path="url(#baseclip)"><text class="wm" x="1611" y="1011">WoodWideCities</text></g>
<g opacity="0.999"><text class="city" x="722.2 765.95 810.55 856.95 901.95 937.75 973.45 1020.6" y="973.25">BRUNSSUM</text></g>
<polygon points="640,1015.6 1161,1015.6 1170.6,1028.6 1170.6,1031 631,1031 630.6,1029" fill="#f6f1f2"/>
<polygon points="631.6,1028.8 1170.6,1028.8 1170.6,1031 631,1031" fill="#cdc7c1"/>
</svg>
</body>
</html>
